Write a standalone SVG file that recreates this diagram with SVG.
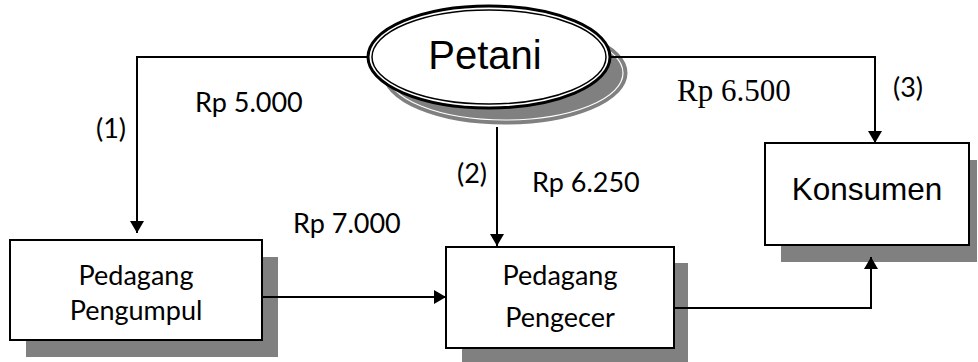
<svg xmlns="http://www.w3.org/2000/svg" width="978" height="362" viewBox="0 0 978 362">
<style>
.box{fill:#fff;stroke:#000;stroke-width:2}
.shadow{fill:#808080}
.con{fill:none;stroke:#000;stroke-width:2}
.cal{font-family:Lato,"Open Sans",sans-serif;font-size:27px;fill:#000}
.ar{font-family:"Liberation Sans",Arial,sans-serif;fill:#000}
.tm{font-family:"Liberation Serif","Times New Roman",serif;font-size:31px;fill:#000}
</style>
<defs>
<marker id="arr" viewBox="0 0 12 14" refX="12" refY="7" markerWidth="12" markerHeight="14" markerUnits="userSpaceOnUse" orient="auto">
<path d="M0,0 L12,7 L0,14 Z" fill="#000"/>
</marker>
</defs>
<g id="petani">
<ellipse cx="505" cy="73" rx="121" ry="50" fill="#808080" stroke="#808080" stroke-width="3"/>
<ellipse cx="505" cy="73" rx="118" ry="47" fill="none" stroke="#fff" stroke-width="1.2"/>
<ellipse cx="489" cy="57" rx="121" ry="51" fill="#fff" stroke="#000" stroke-width="3"/>
<ellipse cx="489" cy="57" rx="117" ry="47" fill="#fff" stroke="#000" stroke-width="1.5"/>
<text class="ar" x="485" y="69" font-size="40" text-anchor="middle">Petani</text>
</g>
<g id="pengumpul">
<rect class="shadow" x="26" y="257" width="252" height="100"/>
<rect class="box" x="10" y="240" width="252" height="100"/>
<text class="cal" x="136" y="285" text-anchor="middle">Pedagang</text>
<text class="cal" x="136" y="320" text-anchor="middle">Pengumpul</text>
</g>
<g id="pengecer">
<rect class="shadow" x="462" y="263" width="226" height="101"/>
<rect class="box" x="446" y="247" width="228" height="101"/>
<text class="cal" x="560" y="285" text-anchor="middle">Pedagang</text>
<text class="cal" x="560" y="327" text-anchor="middle">Pengecer</text>
</g>
<g id="konsumen">
<rect class="shadow" x="781" y="160" width="196" height="102"/>
<rect class="box" x="765" y="143" width="204" height="102"/>
<text class="ar" x="867" y="200" font-size="31.5" text-anchor="middle">Konsumen</text>
</g>
<g id="connectors">
<path class="con" d="M368,57 H137 V233" marker-end="url(#arr)"/>
<path class="con" d="M497,127 V246" marker-end="url(#arr)"/>
<path class="con" d="M610,57 H875 V143" marker-end="url(#arr)"/>
<path class="con" d="M262,297 H446" marker-end="url(#arr)"/>
<path class="con" d="M674,308 H871 V257" marker-end="url(#arr)"/>
</g>
<g id="labels">
<text class="cal" x="96" y="138">(1)</text>
<text class="cal" x="195" y="112">Rp 5.000</text>
<text class="cal" x="293" y="233">Rp 7.000</text>
<text class="cal" x="457" y="183">(2)</text>
<text class="cal" x="532" y="192">Rp 6.250</text>
<text class="tm" x="677" y="101">Rp 6.500</text>
<text class="cal" x="893" y="97">(3)</text>
</g>
</svg>
